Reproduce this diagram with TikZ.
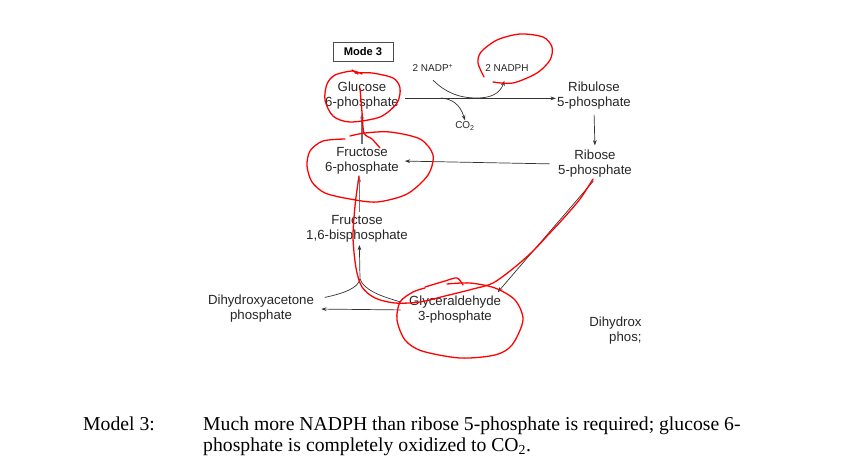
\documentclass[tikz,border=0pt]{standalone}
\usepackage{fontspec}
\setmainfont{Liberation Serif}
\setsansfont{Liberation Sans}
\usetikzlibrary{arrows.meta}

\tikzset{
  met/.style={font=\sffamily\fontsize{11.3}{12.8}\selectfont, text=black!85, align=center, inner sep=1pt},
  cof/.style={font=\sffamily\fontsize{8.5}{10}\selectfont, text=black!85, inner sep=1pt},
  rxn/.style={draw=black!80, line width=0.6pt, -{Stealth[length=4.5pt,width=3.2pt]}},
  ink/.style={red, line width=1.1pt, line cap=round, line join=round},
  capt/.style={font=\fontsize{16.8}{18}\selectfont, anchor=base west, inner sep=0pt},
}

\begin{document}
\begin{tikzpicture}[x=0.03cm,y=-0.03cm]
\useasboundingbox (0,0) rectangle (841,475);

% mode box
\node[draw=black!70, line width=0.8pt, minimum width=1.8cm, minimum height=0.56cm,
      font=\sffamily\bfseries\fontsize{9.5}{11}\selectfont] (mode) at (363,52) {Mode 3};

% metabolites
\node[met] (g6p) at (362,96) {Glucose\\6-phosphate};
\node[met] (ru5p) at (594,96) {Ribulose\\5-phosphate};
\node[met] (r5p) at (595,164) {Ribose\\5-phosphate};
\node[met] (f6p) at (362,161) {Fructose\\6-phosphate};
\node[met] (f16bp) at (357,229) {Fructose\\1,6-bisphosphate};
\node[met] (dhap) at (261,309) {Dihydroxyacetone\\phosphate};
\node[met] (gap) at (455,310) {Glyceraldehyde\\3-phosphate};
\node[met, align=right, anchor=east] (dhap2) at (643,331) {Dihydrox\\phos;};

% cofactors
\node[cof] (nadp) at (433,68) {2 NADP\textsuperscript{+}};
\node[cof] (nadph) at (507,68) {2 NADPH};
\node[cof] (co2) at (465,126) {CO\textsubscript{2}};

\coordinate (split) at (441,98);
\coordinate (join) at (477,98);
\coordinate (fork) at (360,279);

% reactions
\draw[rxn] ([yshift=-2pt]g6p.east) ++(5,0) -- ([yshift=-2pt]ru5p.west);
\draw[draw=black!80, line width=0.6pt] (nadp.south) ++(0,7) .. controls (445,92) and (458,98) .. (join);
\draw[rxn, shorten >=7pt] (join) .. controls (490,98) and (500,94) .. (nadph.south);
\draw[rxn] (split) .. controls (452,99) and (460,104) .. (co2.north);
\draw[rxn, shorten <=3pt, shorten >=3pt] (ru5p.south) -- (r5p.north);
\draw[rxn, shorten <=6pt, shorten >=4pt] (r5p.west) -- (f6p.east);
\draw[rxn, draw=black!55, line width=0.9pt, shorten <=2pt, shorten >=2pt] (f6p.north) -- (g6p.south);
\draw[rxn, draw=black!55, line width=0.9pt, shorten <=2pt, shorten >=1pt] ([xshift=2pt]f16bp.north) -- ([xshift=2pt]f16bp.north |- f6p.south);
\draw[rxn, shorten >=1pt] (fork) -- ([xshift=2pt]f16bp.south);
\draw[draw=black!80, line width=0.6pt] ([xshift=8pt,yshift=-3pt]dhap.north east) .. controls (345,293) and (358,288) .. (fork);
\draw[draw=black!80, line width=0.6pt] ([xshift=-6pt,yshift=-6pt]gap.north west) .. controls (380,296) and (364,290) .. (fork);
\draw[rxn, shorten <=6pt, shorten >=5pt] (gap.west) -- (dhap.east);
\draw[rxn, shorten <=2pt, shorten >=3pt] (r5p.south) -- ([xshift=-6pt]gap.north east);

% red pen marks
\draw[ink] plot[smooth] coordinates {(362,74) (352,71) (335,75) (327,84) (325,100) (333,116) (350,122) (380,117) (397,103) (400,88) (393,78) (372,73) (355,73)};
\draw[ink] (352,70) -- (358,74);
\draw[ink] plot[smooth] coordinates {(360,88) (362,112) (364,133) (372,139) (380,148)};
\draw[ink] plot[smooth] coordinates {(345,139) (323,141) (310,151) (307,166) (312,182) (325,193) (350,199) (377,202) (407,194) (428,175) (433,155) (420,139) (390,132) (365,133) (350,136)};
\draw[ink] plot[smooth] coordinates {(359,176) (357,190) (355,206) (353,237) (356,268) (362,287) (375,298) (395,303) (420,302) (445,296) (473,289) (493,283) (515,267) (533,251) (548,235) (562,220) (580,199) (593,179)};
\draw[ink] plot[smooth] coordinates {(425,288) (413,292) (400,302) (397,320) (405,340) (422,351) (460,358) (495,355) (512,345) (523,320) (515,300) (495,288) (470,283) (447,284)};
\draw[ink] plot[smooth] coordinates {(425,287) (445,281) (457,278) (463,285)};
\draw[ink] plot[smooth] coordinates {(484,77) (478,63) (481,52) (497,40) (520,34) (543,37) (552,47) (550,60) (537,73) (513,83) (493,82)};

% caption
\node[capt] (mlabel) at (83,430) {Model 3:};
\node[capt] (mtext1) at (203,430) {Much more NADPH than ribose 5-phosphate is required; glucose 6-};
\node[capt] (mtext2) at (203,451) {phosphate is completely oxidized to CO\textsubscript{2}.};
\end{tikzpicture}
\end{document}
